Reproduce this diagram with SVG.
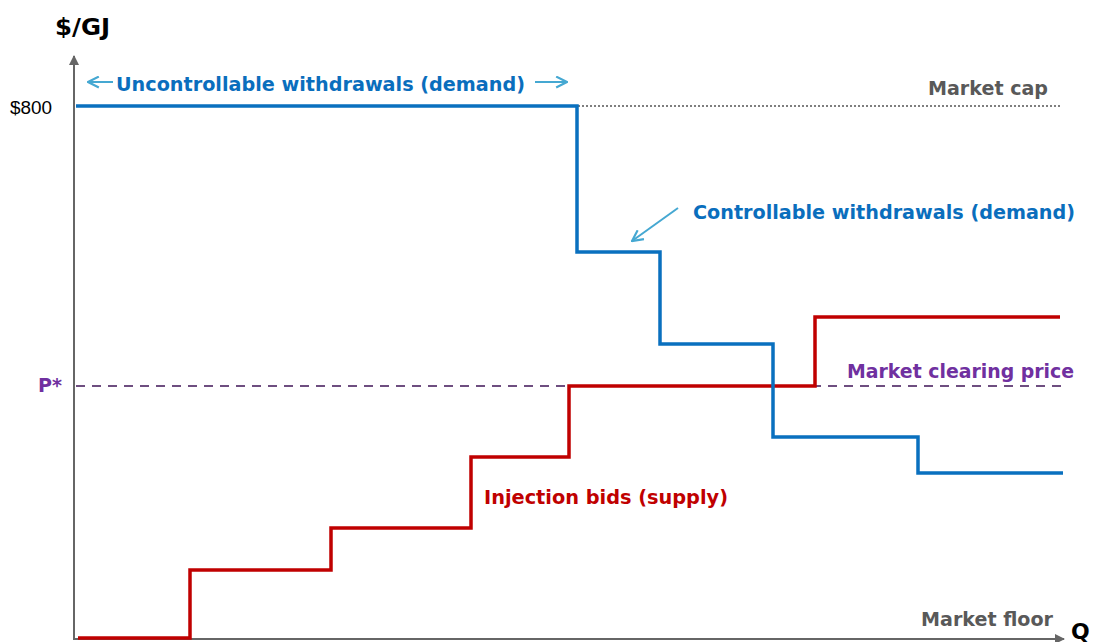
<svg xmlns="http://www.w3.org/2000/svg" width="1101" height="642" viewBox="0 0 1101 642">
<defs>
<style>
.t{font-family:"DejaVu Sans",Verdana,sans-serif;font-weight:bold}
.axis{stroke:#666;stroke-width:2;fill:none}
.demand{stroke:#0A70BF;stroke-width:3.5;fill:none;stroke-linejoin:miter}
.supply{stroke:#C00000;stroke-width:3.5;fill:none;stroke-linejoin:miter}
.ptr{stroke:#45A8D2;stroke-width:2;fill:none}
</style>
<marker id="ah" viewBox="0 0 10 10" refX="9" refY="5" markerWidth="10" markerHeight="10" markerUnits="userSpaceOnUse" orient="auto"><path d="M0,0 L10,5 L0,10 z" fill="#666"/></marker>
<marker id="lh" viewBox="0 0 12 12" refX="11" refY="6" markerWidth="13" markerHeight="13" markerUnits="userSpaceOnUse" orient="auto"><path d="M1,1 L11,6 L1,11" fill="none" stroke="#45A8D2" stroke-width="2"/></marker>
</defs>
<rect width="1101" height="642" fill="#fff"/>
<g id="axes">
<line class="axis" x1="74" y1="640" x2="74" y2="56" marker-end="url(#ah)"/>
<line class="axis" x1="74" y1="639" x2="1064" y2="639" marker-end="url(#ah)"/>
<text class="t" x="55" y="35" font-size="23" fill="#000" textLength="55" lengthAdjust="spacingAndGlyphs">$/GJ</text>
<text x="10" y="114" font-family="Liberation Sans,Arial,sans-serif" font-size="18" fill="#000" textLength="42" lengthAdjust="spacingAndGlyphs">$800</text>
<text class="t" x="1071" y="639" font-size="22" fill="#000">Q</text>
</g>
<g id="market-cap">
<line x1="578" y1="106" x2="1060" y2="106" stroke="#555" stroke-width="1.5" stroke-dasharray="2,2"/>
<text class="t" x="928" y="95" font-size="19" fill="#595959" textLength="120" lengthAdjust="spacingAndGlyphs">Market cap</text>
</g>
<g id="market-floor">
<text class="t" x="921" y="626" font-size="19" fill="#595959" textLength="132" lengthAdjust="spacingAndGlyphs">Market floor</text>
</g>
<g id="clearing-price">
<line x1="76" y1="386" x2="1068" y2="386" stroke="#6E4E80" stroke-width="2" stroke-dasharray="9,7"/>
<text class="t" x="38" y="392" font-size="19" fill="#7030A0" textLength="24" lengthAdjust="spacingAndGlyphs">P*</text>
<text class="t" x="847" y="378" font-size="19" fill="#7030A0" textLength="227" lengthAdjust="spacingAndGlyphs">Market clearing price</text>
</g>
<g id="supply">
<polyline class="supply" points="78,638 190,638 190,570 331,570 331,528 471,528 471,457 569,457 569,386 815,386 815,317 1060,317"/>
<text class="t" x="484" y="504" font-size="19" fill="#C00000" textLength="244" lengthAdjust="spacingAndGlyphs">Injection bids (supply)</text>
</g>
<g id="demand">
<polyline class="demand" points="76,106 577,106 577,252 660,252 660,344 773,344 773,437 918,437 918,473 1063,473"/>
<text class="t" x="116" y="91" font-size="20" fill="#0A6EBD" textLength="409" lengthAdjust="spacingAndGlyphs">Uncontrollable withdrawals (demand)</text>
<text class="t" x="693" y="219" font-size="20" fill="#0A6EBD" textLength="382" lengthAdjust="spacingAndGlyphs">Controllable withdrawals (demand)</text>
</g>
<g id="connectors">
<line class="ptr" x1="113" y1="82" x2="88" y2="82" marker-end="url(#lh)"/>
<line class="ptr" x1="535" y1="82" x2="567" y2="82" marker-end="url(#lh)"/>
<line class="ptr" x1="678" y1="208" x2="632" y2="241" marker-end="url(#lh)"/>
</g>
</svg>
